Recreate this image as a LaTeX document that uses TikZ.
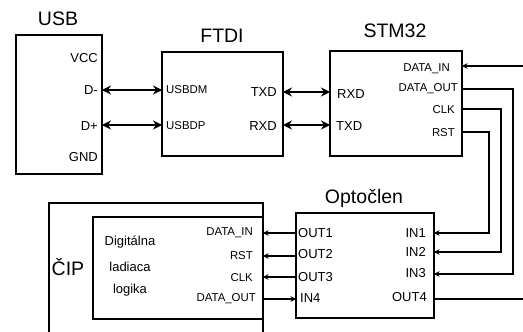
\documentclass[tikz,border=0pt]{standalone}
\usepackage{fontspec}
\setmainfont{Liberation Sans}
\usetikzlibrary{arrows.meta,positioning}
\begin{document}
\begin{tikzpicture}[x=1pt,y=-1pt,
  box/.style={draw,line width=1.5pt,inner sep=0pt,outer sep=0pt},
  title/.style={font=\fontsize{19.5}{22}\selectfont,inner sep=0pt},
  pin/.style={font=\fontsize{13}{15}\selectfont,inner sep=0pt},
  spin/.style={font=\fontsize{11.4}{13}\selectfont,inner sep=0pt},
  wire/.style={line width=1.5pt},
  dbl/.style={wire,{Stealth[length=9pt,width=9pt]}-{Stealth[length=9pt,width=9pt]}},
  sarr/.style={wire,-{Stealth[length=5.5pt,width=5.5pt]}}]
\useasboundingbox (0,0) rectangle (523,332);
% boxes
\node[box,minimum width=86pt,minimum height=139pt] (usb) at (59,104.5) {};
\node[box,minimum width=121pt,minimum height=104pt] (ftdi) at (222.5,104) {};
\node[box,minimum width=132pt,minimum height=105pt] (stm) at (396,103.5) {};
\node[box,minimum width=138pt,minimum height=105pt] (opto) at (365,265.5) {};
\node[box,minimum width=170pt,minimum height=102pt] (logic) at (178,268) {};
\draw[wire] (49,332) -- (49,203) coordinate (chiptl) -- (263,203) coordinate (chiptr) -- (263,332);
% titles
\node[title] (tusb) at (58,19) {USB};
\node[title] (tftdi) at (222,36) {FTDI};
\node[title] (tstm) at (395,31) {STM32};
\node[title] (topto) at (364,198) {Optočlen};
\node[title] (tchip) at (68,267) {ČIP};
% USB pins
\node[pin,anchor=east] (vcc) at (98,58) {VCC};
\node[pin,anchor=east] (dm) at (98,90) {D-};
\node[pin,anchor=east] (dp) at (98,126) {D+};
\node[pin,anchor=east] (gnd) at (98,157) {GND};
% FTDI pins
\node[spin,anchor=west] (usbdm) at (166,90) {USBDM};
\node[spin,anchor=west] (usbdp) at (166,126) {USBDP};
\node[pin,anchor=east] (ftx) at (277,92) {TXD};
\node[pin,anchor=east] (frx) at (277,126) {RXD};
% STM pins
\node[pin,anchor=west] (srx) at (337,94) {RXD};
\node[pin,anchor=west] (stx) at (336,126) {TXD};
\node[spin,anchor=east] (sdin) at (450,69) {DATA\_IN};
\node[spin,anchor=east] (sdout) at (458,89) {DATA\_OUT};
\node[spin,anchor=east] (sclk) at (455,110) {CLK};
\node[spin,anchor=east] (srst) at (455,133) {RST};
% Opto pins
\node[pin,anchor=west] (o1) at (298,233) {OUT1};
\node[pin,anchor=west] (o2) at (298,254) {OUT2};
\node[pin,anchor=west] (o3) at (298,277) {OUT3};
\node[pin,anchor=west] (i4) at (300,298) {IN4};
\node[pin,anchor=east] (i1) at (426,233) {IN1};
\node[pin,anchor=east] (i2) at (426,252) {IN2};
\node[pin,anchor=east] (i3) at (426,273) {IN3};
\node[pin,anchor=east] (o4) at (427,297) {OUT4};
% logic pins
\node[spin,anchor=east] (ldin) at (253,233) {DATA\_IN};
\node[spin,anchor=east] (lrst) at (253,256) {RST};
\node[spin,anchor=east] (lclk) at (253,278) {CLK};
\node[spin,anchor=east] (ldout) at (256,299) {DATA\_OUT};
\node[pin] (t1) at (130,242) {Digitálna};
\node[pin] (t2) at (130,267) {ladiaca};
\node[pin] (t3) at (130,290) {logika};
% connectors
\draw[dbl] (usb.east |- 0,90) -- (ftdi.west |- 0,90);
\draw[dbl] (usb.east |- 0,125) -- (ftdi.west |- 0,125);
\draw[dbl] (ftdi.east |- 0,92) -- (stm.west |- 0,92);
\draw[dbl] (ftdi.east |- 0,125) -- (stm.west |- 0,125);
\coordinate (ein) at (523,66);
\coordinate (eout) at (523,299);
\draw[sarr] (ein) -- (stm.east |- ein);
\draw[sarr] (stm.east |- 0,89) -- (513,89) -- (513,274) -- (opto.east |- 0,274);
\draw[sarr] (stm.east |- 0,109) -- (501,109) -- (501,252) -- (opto.east |- 0,252);
\draw[sarr] (stm.east |- 0,132) -- (489,132) -- (489,233) -- (opto.east |- 0,233);
\draw[wire] (opto.east |- eout) -- (eout);
\draw[sarr] (opto.west |- 0,233) -- (logic.east |- 0,233);
\draw[sarr] (opto.west |- 0,256) -- (logic.east |- 0,256);
\draw[sarr] (opto.west |- 0,277) -- (logic.east |- 0,277);
\draw[sarr] (logic.east |- 0,299) -- (opto.west |- 0,299);
\end{tikzpicture}
\end{document}
